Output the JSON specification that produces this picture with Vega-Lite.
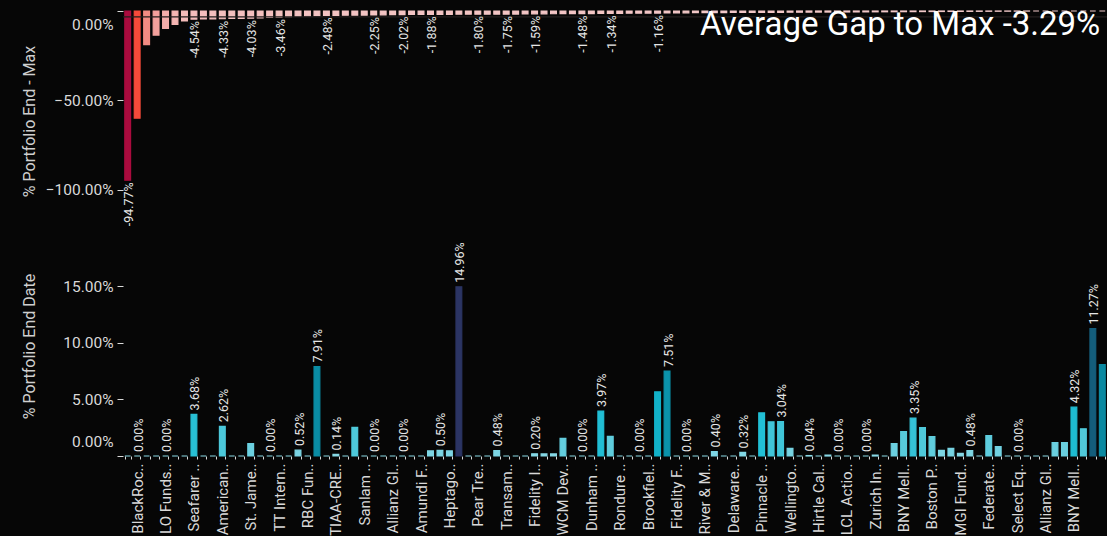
{
  "$schema": "https://vega.github.io/schema/vega-lite/v6.json",
  "background": "#060606",
  "padding": {"left": 21, "top": 8, "right": 0, "bottom": 0},
  "bounds": "flush",
  "spacing": 5,
  "resolve": {"scale": {"color": "independent", "stroke": "independent"}},
  "config": {
    "font": "Roboto",
    "view": {"stroke": null},
    "axis": {"grid": false, "domain": false, "labelColor": "#d9d9d9", "titleColor": "#cfcfcf", "tickColor": "#d9d9d9", "labelFont": "Roboto", "titleFont": "Roboto", "titleFontWeight": "normal"}
  },
  "data": {"values": [
    {"key": "000|", "gap": -94.77, "end": 0, "gap_label": "-94.77%", "end_label": ""},
    {"key": "001|BlackRoc..", "gap": -60.0, "end": 0, "gap_label": "", "end_label": "0.00%"},
    {"key": "002|", "gap": -18.8, "end": 0, "gap_label": "", "end_label": ""},
    {"key": "003|", "gap": -13.5, "end": 0, "gap_label": "", "end_label": ""},
    {"key": "004|LO Funds..", "gap": -9.8, "end": 0, "gap_label": "", "end_label": "0.00%"},
    {"key": "005|", "gap": -7.5, "end": 0, "gap_label": "", "end_label": ""},
    {"key": "006|", "gap": -5.6, "end": 0, "gap_label": "", "end_label": ""},
    {"key": "007|Seafarer ..", "gap": -4.54, "end": 3.68, "gap_label": "-4.54%", "end_label": "3.68%"},
    {"key": "008|", "gap": -4.45, "end": 0, "gap_label": "", "end_label": ""},
    {"key": "009|", "gap": -4.38, "end": 0, "gap_label": "", "end_label": ""},
    {"key": "010|American..", "gap": -4.33, "end": 2.62, "gap_label": "-4.33%", "end_label": "2.62%"},
    {"key": "011|", "gap": -4.2, "end": 0, "gap_label": "", "end_label": ""},
    {"key": "012|", "gap": -4.1, "end": 0, "gap_label": "", "end_label": ""},
    {"key": "013|St. Jame..", "gap": -4.03, "end": 1.09, "gap_label": "-4.03%", "end_label": ""},
    {"key": "014|", "gap": -3.8, "end": 0, "gap_label": "", "end_label": ""},
    {"key": "015|", "gap": -3.6, "end": 0, "gap_label": "", "end_label": "0.00%"},
    {"key": "016|TT Intern..", "gap": -3.46, "end": 0, "gap_label": "-3.46%", "end_label": ""},
    {"key": "017|", "gap": -3.2, "end": 0, "gap_label": "", "end_label": ""},
    {"key": "018|", "gap": -2.9, "end": 0.52, "gap_label": "", "end_label": "0.52%"},
    {"key": "019|RBC Fun..", "gap": -2.7, "end": 0, "gap_label": "", "end_label": ""},
    {"key": "020|", "gap": -2.55, "end": 7.91, "gap_label": "", "end_label": "7.91%"},
    {"key": "021|", "gap": -2.48, "end": 0, "gap_label": "-2.48%", "end_label": ""},
    {"key": "022|TIAA-CRE..", "gap": -2.42, "end": 0.14, "gap_label": "", "end_label": "0.14%"},
    {"key": "023|", "gap": -2.36, "end": 0, "gap_label": "", "end_label": ""},
    {"key": "024|", "gap": -2.31, "end": 2.53, "gap_label": "", "end_label": ""},
    {"key": "025|Sanlam ..", "gap": -2.28, "end": 0, "gap_label": "", "end_label": ""},
    {"key": "026|", "gap": -2.25, "end": 0, "gap_label": "-2.25%", "end_label": "0.00%"},
    {"key": "027|", "gap": -2.15, "end": 0, "gap_label": "", "end_label": ""},
    {"key": "028|Allianz Gl..", "gap": -2.08, "end": 0, "gap_label": "", "end_label": ""},
    {"key": "029|", "gap": -2.02, "end": 0, "gap_label": "-2.02%", "end_label": "0.00%"},
    {"key": "030|", "gap": -1.95, "end": 0, "gap_label": "", "end_label": ""},
    {"key": "031|Amundi F..", "gap": -1.91, "end": 0, "gap_label": "", "end_label": ""},
    {"key": "032|", "gap": -1.88, "end": 0.45, "gap_label": "-1.88%", "end_label": ""},
    {"key": "033|", "gap": -1.86, "end": 0.5, "gap_label": "", "end_label": "0.50%"},
    {"key": "034|Heptago..", "gap": -1.84, "end": 0.45, "gap_label": "", "end_label": ""},
    {"key": "035|", "gap": -1.82, "end": 14.96, "gap_label": "", "end_label": "14.96%"},
    {"key": "036|", "gap": -1.81, "end": 0, "gap_label": "", "end_label": ""},
    {"key": "037|Pear Tre..", "gap": -1.8, "end": 0, "gap_label": "-1.80%", "end_label": ""},
    {"key": "038|", "gap": -1.78, "end": 0, "gap_label": "", "end_label": ""},
    {"key": "039|", "gap": -1.76, "end": 0.48, "gap_label": "", "end_label": "0.48%"},
    {"key": "040|Transam..", "gap": -1.75, "end": 0, "gap_label": "-1.75%", "end_label": ""},
    {"key": "041|", "gap": -1.7, "end": 0, "gap_label": "", "end_label": ""},
    {"key": "042|", "gap": -1.63, "end": 0, "gap_label": "", "end_label": ""},
    {"key": "043|Fidelity I..", "gap": -1.59, "end": 0.2, "gap_label": "-1.59%", "end_label": "0.20%"},
    {"key": "044|", "gap": -1.56, "end": 0.18, "gap_label": "", "end_label": ""},
    {"key": "045|", "gap": -1.53, "end": 0.18, "gap_label": "", "end_label": ""},
    {"key": "046|WCM Dev..", "gap": -1.51, "end": 1.56, "gap_label": "", "end_label": ""},
    {"key": "047|", "gap": -1.49, "end": 0, "gap_label": "", "end_label": ""},
    {"key": "048|", "gap": -1.48, "end": 0, "gap_label": "-1.48%", "end_label": "0.00%"},
    {"key": "049|Dunham ..", "gap": -1.42, "end": 0, "gap_label": "", "end_label": ""},
    {"key": "050|", "gap": -1.38, "end": 3.97, "gap_label": "", "end_label": "3.97%"},
    {"key": "051|", "gap": -1.34, "end": 1.74, "gap_label": "-1.34%", "end_label": ""},
    {"key": "052|Rondure ..", "gap": -1.3, "end": 0, "gap_label": "", "end_label": ""},
    {"key": "053|", "gap": -1.26, "end": 0, "gap_label": "", "end_label": ""},
    {"key": "054|", "gap": -1.22, "end": 0, "gap_label": "", "end_label": "0.00%"},
    {"key": "055|Brookfiel..", "gap": -1.19, "end": 0, "gap_label": "", "end_label": ""},
    {"key": "056|", "gap": -1.16, "end": 5.67, "gap_label": "-1.16%", "end_label": ""},
    {"key": "057|", "gap": -1.1, "end": 7.51, "gap_label": "", "end_label": "7.51%"},
    {"key": "058|Fidelity F..", "gap": -1.05, "end": 0, "gap_label": "", "end_label": ""},
    {"key": "059|", "gap": -1.0, "end": 0, "gap_label": "", "end_label": "0.00%"},
    {"key": "060|", "gap": -0.96, "end": 0, "gap_label": "", "end_label": ""},
    {"key": "061|River & M..", "gap": -0.93, "end": 0, "gap_label": "", "end_label": ""},
    {"key": "062|", "gap": -0.9, "end": 0.4, "gap_label": "", "end_label": "0.40%"},
    {"key": "063|", "gap": -0.87, "end": 0, "gap_label": "", "end_label": ""},
    {"key": "064|Delaware..", "gap": -0.85, "end": 0, "gap_label": "", "end_label": ""},
    {"key": "065|", "gap": -0.82, "end": 0.32, "gap_label": "", "end_label": "0.32%"},
    {"key": "066|", "gap": -0.8, "end": 0, "gap_label": "", "end_label": ""},
    {"key": "067|Pinnacle ..", "gap": -0.78, "end": 3.81, "gap_label": "", "end_label": ""},
    {"key": "068|", "gap": -0.75, "end": 3.02, "gap_label": "", "end_label": ""},
    {"key": "069|", "gap": -0.72, "end": 3.04, "gap_label": "", "end_label": "3.04%"},
    {"key": "070|Wellingto..", "gap": -0.7, "end": 0.67, "gap_label": "", "end_label": ""},
    {"key": "071|", "gap": -0.67, "end": 0, "gap_label": "", "end_label": ""},
    {"key": "072|", "gap": -0.64, "end": 0.04, "gap_label": "", "end_label": "0.04%"},
    {"key": "073|Hirtle Cal..", "gap": -0.62, "end": 0, "gap_label": "", "end_label": ""},
    {"key": "074|", "gap": -0.6, "end": 0.08, "gap_label": "", "end_label": ""},
    {"key": "075|", "gap": -0.57, "end": 0, "gap_label": "", "end_label": "0.00%"},
    {"key": "076|LCL Actio..", "gap": -0.55, "end": 0, "gap_label": "", "end_label": ""},
    {"key": "077|", "gap": -0.52, "end": 0, "gap_label": "", "end_label": ""},
    {"key": "078|", "gap": -0.49, "end": 0, "gap_label": "", "end_label": "0.00%"},
    {"key": "079|Zurich In..", "gap": -0.46, "end": 0.08, "gap_label": "", "end_label": ""},
    {"key": "080|", "gap": -0.44, "end": 0, "gap_label": "", "end_label": ""},
    {"key": "081|", "gap": -0.41, "end": 1.1, "gap_label": "", "end_label": ""},
    {"key": "082|BNY Mell..", "gap": -0.38, "end": 2.15, "gap_label": "", "end_label": ""},
    {"key": "083|", "gap": -0.36, "end": 3.35, "gap_label": "", "end_label": "3.35%"},
    {"key": "084|", "gap": -0.33, "end": 2.5, "gap_label": "", "end_label": ""},
    {"key": "085|Boston P..", "gap": -0.3, "end": 1.71, "gap_label": "", "end_label": ""},
    {"key": "086|", "gap": -0.28, "end": 0.49, "gap_label": "", "end_label": ""},
    {"key": "087|", "gap": -0.25, "end": 0.67, "gap_label": "", "end_label": ""},
    {"key": "088|MGI Fund..", "gap": -0.22, "end": 0.23, "gap_label": "", "end_label": ""},
    {"key": "089|", "gap": -0.2, "end": 0.48, "gap_label": "", "end_label": "0.48%"},
    {"key": "090|", "gap": -0.17, "end": 0, "gap_label": "", "end_label": ""},
    {"key": "091|Federate..", "gap": -0.14, "end": 1.8, "gap_label": "", "end_label": ""},
    {"key": "092|", "gap": -0.12, "end": 0.84, "gap_label": "", "end_label": ""},
    {"key": "093|", "gap": -0.09, "end": 0, "gap_label": "", "end_label": ""},
    {"key": "094|Select Eq..", "gap": -0.07, "end": 0, "gap_label": "", "end_label": "0.00%"},
    {"key": "095|", "gap": -0.04, "end": 0, "gap_label": "", "end_label": ""},
    {"key": "096|", "gap": 0, "end": 0, "gap_label": "", "end_label": ""},
    {"key": "097|Allianz Gl..", "gap": 0, "end": 0, "gap_label": "", "end_label": ""},
    {"key": "098|", "gap": 0, "end": 1.19, "gap_label": "", "end_label": ""},
    {"key": "099|", "gap": 0, "end": 1.19, "gap_label": "", "end_label": ""},
    {"key": "100|BNY Mell..", "gap": 0, "end": 4.32, "gap_label": "", "end_label": "4.32%"},
    {"key": "101|", "gap": 0, "end": 2.41, "gap_label": "", "end_label": ""},
    {"key": "102|", "gap": 0, "end": 11.27, "gap_label": "", "end_label": "11.27%"},
    {"key": "103|", "gap": 0, "end": 8.08, "gap_label": "", "end_label": ""}
  ]},
  "vconcat": [
    {
      "width": 984,
      "height": 220,
      "layer": [
        {
          "mark": {"type": "bar", "strokeWidth": 1.2},
          "encoding": {
            "x": {"field": "key", "type": "ordinal", "axis": null, "scale": {"paddingInner": 0.387, "paddingOuter": 0.19}},
            "y": {"field": "gap", "type": "quantitative", "scale": {"domain": [-123.2, 0], "nice": false},
              "axis": {"title": "% Portfolio End - Max", "values": [0, -50, -100], "labelExpr": "format(datum.value, '.2f') + '%'", "labelFontSize": 15.5, "titleFontSize": 16, "tickSize": 6, "labelPadding": 4, "labelFlush": true, "labelFlushOffset": -6.5, "minExtent": 80, "maxExtent": 80, "titlePadding": 6}},
            "color": {"field": "gap", "type": "quantitative", "legend": null, "scale": {"domain": [-95, -60, -19, -13, -5, 0], "range": ["#a90b3e", "#f64a3a", "#f28a81", "#f4a29e", "#f4bdbb", "#f2c9c9"]}},
            "stroke": {"field": "gap", "type": "quantitative", "legend": null, "scale": {"domain": [-95, -60, -19, -13, -5, 0], "range": ["#a90b3e", "#f64a3a", "#f28a81", "#f4a29e", "#f4bdbb", "#f2c9c9"]}}
          }
        },
        {
          "data": {"values": [{"avg_gap": -3.29}]},
          "mark": {"type": "rule", "color": "#231e1e", "strokeWidth": 1.3},
          "encoding": {
            "y": {"field": "avg_gap", "type": "quantitative"}
          }
        },
        {
          "mark": {"type": "text", "angle": 270, "align": "right", "baseline": "middle", "dx": -2, "dy": 1.5, "fontSize": 12.5, "color": "#e6e6e6"},
          "encoding": {
            "x": {"field": "key", "type": "ordinal"},
            "y": {"field": "gap", "type": "quantitative"},
            "text": {"field": "gap_label"}
          }
        },
        {
          "data": {"values": [{"headline": "Average Gap to Max -3.29%"}]},
          "mark": {"type": "text", "align": "right", "baseline": "alphabetic", "dx": -2, "dy": 23.5, "fontSize": 33, "font": "Roboto", "color": "#ffffff"},
          "encoding": {
            "x": {"datum": "103|", "type": "ordinal"},
            "y": {"datum": 0, "type": "quantitative"},
            "text": {"field": "headline"}
          }
        }
      ]
    },
    {
      "width": 984,
      "height": 220,
      "layer": [
        {
          "mark": {"type": "bar", "strokeWidth": 1.2},
          "encoding": {
            "x": {"field": "key", "type": "ordinal", "scale": {"paddingInner": 0.387, "paddingOuter": 0.19},
              "axis": {"title": null, "labelAngle": 270, "labelExpr": "split(datum.value, '|')[1]", "labelOverlap": false, "tickBand": "extent", "tickSize": 3, "labelFontSize": 15, "labelPadding": 4}},
            "y": {"field": "end", "type": "quantitative", "scale": {"domain": [0, 19.45], "nice": false},
              "axis": {"title": "% Portfolio End Date", "values": [0, 5, 10, 15], "labelExpr": "format(datum.value, '.2f') + '%'", "labelFontSize": 15.5, "titleFontSize": 16, "tickSize": 6, "labelPadding": 4, "labelFlush": true, "labelFlushOffset": -7, "minExtent": 80, "maxExtent": 80, "titlePadding": 6}},
            "color": {"field": "end", "type": "quantitative", "legend": null, "scale": {"domain": [0, 1, 2.5, 3.8, 6, 8, 11.3, 15], "range": ["#8ad9e6", "#6dd0e0", "#4fc9da", "#22bfd5", "#0eafc6", "#0a8aa2", "#145d7b", "#2b3463"]}},
            "stroke": {"field": "end", "type": "quantitative", "legend": null, "scale": {"domain": [0, 1, 2.5, 3.8, 6, 8, 11.3, 15], "range": ["#8ad9e6", "#6dd0e0", "#4fc9da", "#22bfd5", "#0eafc6", "#0a8aa2", "#145d7b", "#2b3463"]}}
          }
        },
        {
          "mark": {"type": "text", "angle": 270, "align": "left", "baseline": "middle", "dx": 4, "dy": 1.5, "fontSize": 12.5, "color": "#e6e6e6"},
          "encoding": {
            "x": {"field": "key", "type": "ordinal"},
            "y": {"field": "end", "type": "quantitative"},
            "text": {"field": "end_label"}
          }
        }
      ]
    }
  ]
}
